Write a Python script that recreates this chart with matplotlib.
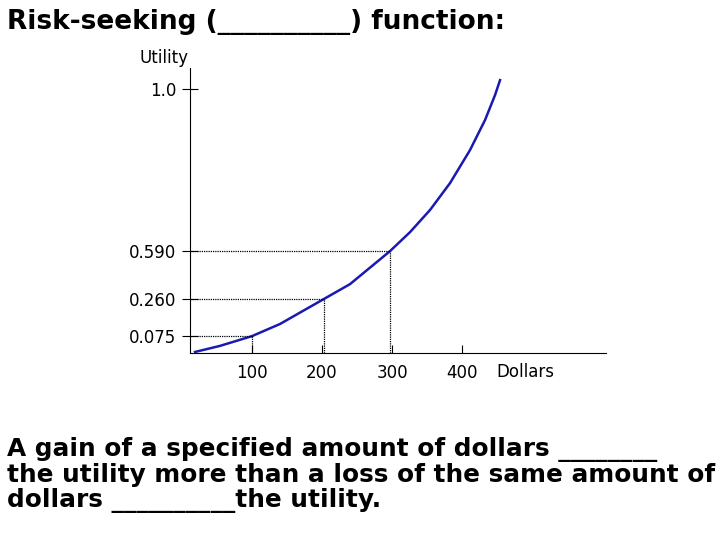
import matplotlib
matplotlib.use("Agg")
import matplotlib.pyplot as plt

# curve points (x in dollars, y in axis position units)
curve_x = [18.6, 54.3, 100.0, 140.0, 202.9, 240.0, 297.1, 325.7, 354.3,
           382.9, 411.4, 432.9, 447.1, 454.3]
curve_y = [0.004, 0.027, 0.064, 0.110, 0.205, 0.261, 0.386, 0.458, 0.542,
           0.644, 0.769, 0.883, 0.977, 1.034]
xtick_vals = [100, 200, 300, 400]
xtick_labels = ["100", "200", "300", "400"]
ytick_pos = [0.064, 0.205, 0.386, 1.0]
ytick_labels = ["0.075", "0.260", "0.590", "1.0"]
guide_x = [100, 202.9, 297.1]
guide_y = [0.064, 0.205, 0.386]

fig = plt.figure(figsize=(7.2, 5.4), dpi=100)
ax = fig.add_axes([0.2639, 0.3463, 0.5778, 0.5278])
ax.plot(curve_x, curve_y, color="#1a1ab0", lw=1.8)
for gx, gy in zip(guide_x, guide_y):
    ax.plot([11.4, gx], [gy, gy], color="black", lw=0.9, ls=(0, (1, 0.8)))
    ax.plot([gx, gx], [0, gy], color="black", lw=0.9, ls=(0, (1, 0.8)))
ax.set_xlim(11.4, 605.7)
ax.set_ylim(0, 1.08)
for s in ["top", "right"]:
    ax.spines[s].set_visible(False)
ax.set_xticks(xtick_vals)
ax.set_xticklabels(xtick_labels)
ax.set_yticks(ytick_pos)
ax.set_yticklabels(ytick_labels)
ax.tick_params(axis="x", direction="in", length=6, labelsize=12, pad=8)
ax.tick_params(axis="y", direction="inout", length=12, labelsize=12, pad=4)
fig.text(0.69, 0.312, "Dollars", fontsize=12, ha="left", va="center")
fig.text(0.262, 0.892, "Utility", fontsize=12, ha="right", va="center")
fig.text(0.01, 0.96, "Risk-seeking (__________) function:", fontsize=19,
         fontweight="bold", ha="left", va="center")
fig.text(0.01, 0.12, "A gain of a specified amount of dollars ________\n"
         "the utility more than a loss of the same amount of\n"
         "dollars __________the utility.", fontsize=17.8, fontweight="bold",
         ha="left", va="center", linespacing=1.05)
fig.savefig("out.png", dpi=100)
